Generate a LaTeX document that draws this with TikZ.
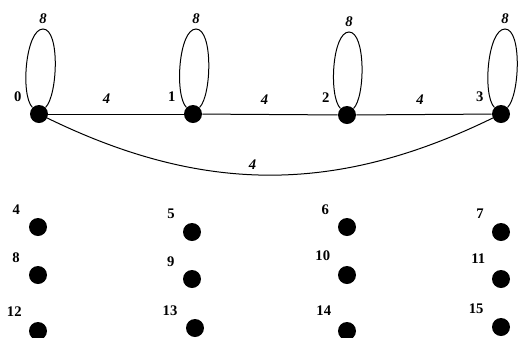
\documentclass[tikz,border=0pt]{standalone}
\usepackage{fontspec}
\setmainfont{Liberation Serif}
\usepackage{tikz}
\usetikzlibrary{positioning}

\begin{document}
\begin{tikzpicture}[x=0.75pt,y=0.75pt,
            vertex/.style={circle,fill=black,inner sep=0pt,minimum size=13.5pt},
            vlabel/.style={font=\fontsize{11}{13}\selectfont\bfseries,label distance=4.5pt},
            weight/.style={font=\fontsize{11}{13}\selectfont\bfseries\itshape},
            edgeline/.style={line width=0.75pt},
            selfloop/.style={edgeline,looseness=0.56}]
        \useasboundingbox (0,0) rectangle (519,-337);
        \node[vertex,label={[vlabel]148:0}] (v0) at (39,-114) {};
        \node[vertex,label={[vlabel]148:1}] (v1) at (193,-114) {};
        \node[vertex,label={[vlabel]148:2}] (v2) at (347,-115) {};
        \node[vertex,label={[vlabel]148:3}] (v3) at (501,-114) {};
        \node[vertex,label={[vlabel]150:4}] (v4) at (38,-227) {};
        \node[vertex,label={[vlabel]145:5}] (v5) at (192,-232) {};
        \node[vertex,label={[vlabel]150:6}] (v6) at (347,-227) {};
        \node[vertex,label={[vlabel]145:7}] (v7) at (501,-232) {};
        \node[vertex,label={[vlabel]152:8}] (v8) at (38,-275) {};
        \node[vertex,label={[vlabel]148:9}] (v9) at (192,-279) {};
        \node[vertex,label={[vlabel]143:10}] (v10) at (347,-275) {};
        \node[vertex,label={[vlabel]137:11}] (v11) at (501,-279) {};
        \node[vertex,label={[vlabel]140:12}] (v12) at (38,-331) {};
        \node[vertex,label={[vlabel]148:13}] (v13) at (195,-328) {};
        \node[vertex,label={[vlabel]137:14}] (v14) at (347,-331) {};
        \node[vertex,label={[vlabel]147:15}] (v15) at (501,-327) {};
        \coordinate (t0) at ([shift={(4,85)}]v0);
        \coordinate (t1) at ([shift={(3,85)}]v1);
        \coordinate (t2) at ([shift={(2,83)}]v2);
        \coordinate (t3) at ([shift={(4,85)}]v3);
        \draw[edgeline] (v0) -- node[weight,above=4pt,pos=0.43] {4} (v1);
        \draw[edgeline] (v1) -- node[weight,above=4pt,pos=0.46] {4} (v2);
        \draw[edgeline] (v2) -- node[weight,above=4pt,pos=0.47] {4} (v3);
        \draw[edgeline] (v0) to[bend right=26] node[weight,above,pos=0.46] {4} (v3);
        \draw[selfloop] (v0) to[out=135,in=180] node[weight,above,pos=1] {8} (t0) to[out=0,in=45] (v0);
        \draw[selfloop] (v1) to[out=135,in=180] node[weight,above,pos=1] {8} (t1) to[out=0,in=45] (v1);
        \draw[selfloop] (v2) to[out=135,in=180] node[weight,above,pos=1] {8} (t2) to[out=0,in=45] (v2);
        \draw[selfloop] (v3) to[out=135,in=180] node[weight,above,pos=1] {8} (t3) to[out=0,in=45] (v3);
\end{tikzpicture}
\end{document}
